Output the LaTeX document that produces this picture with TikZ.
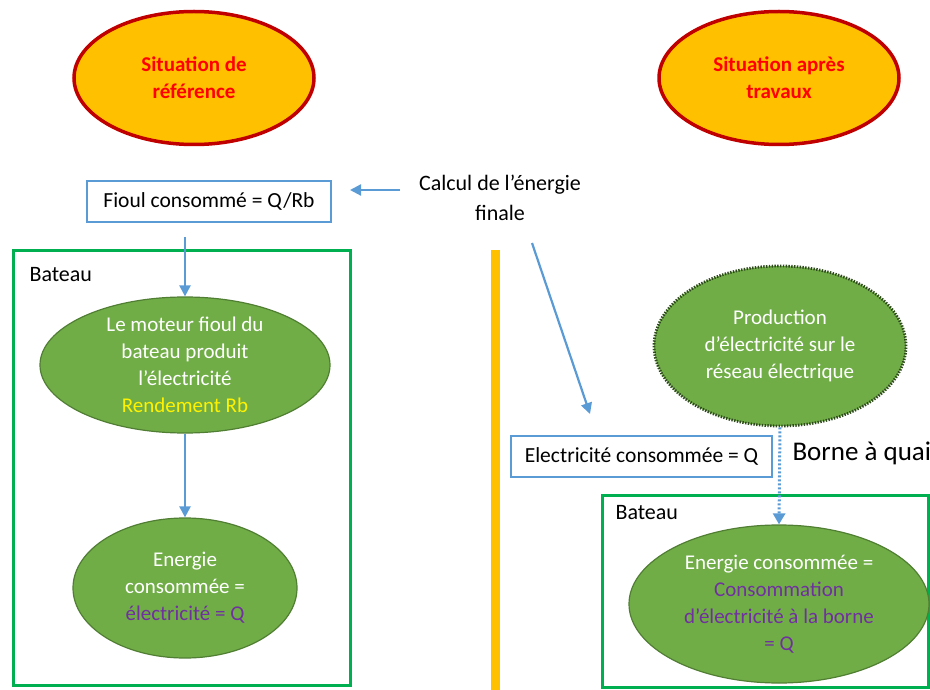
\documentclass[tikz,border=0pt]{standalone}
\usepackage{fontspec}
\setmainfont{Carlito}
\usetikzlibrary{shapes.geometric,arrows.meta}

\definecolor{sitfill}{HTML}{FFC000}
\definecolor{sitline}{HTML}{C00000}
\definecolor{leaf}{HTML}{70AD47}
\definecolor{leafline}{HTML}{507E32}
\definecolor{dotline}{HTML}{2E4A1C}
\definecolor{flowblue}{HTML}{5B9BD5}
\definecolor{boatgreen}{HTML}{00B050}
\definecolor{mauve}{HTML}{7030A0}

\tikzset{
  situation/.style={draw=sitline, line width=3.5, fill=sitfill, ellipse, inner sep=0,
    minimum width=240, minimum height=133, align=center, text=red,
    font=\bfseries\fontsize{21}{27}\selectfont},
  stage/.style={draw=leafline, line width=1.2, fill=leaf, ellipse, inner sep=0,
    align=center, text=white, font=\fontsize{21}{27}\selectfont},
  valuebox/.style={draw=flowblue, line width=2, rectangle, minimum height=41,
    font=\fontsize{21.5}{27}\selectfont},
  boatbox/.style={draw=boatgreen, line width=3, rectangle, inner sep=0},
  plain/.style={font=\fontsize{22}{30}\selectfont, align=center},
  flow/.style={draw=flowblue, line width=2.2, -{Triangle[length=11, width=11]}}
}

\begin{document}
\begin{tikzpicture}[x=1pt, y=-1pt]
            \useasboundingbox (0,0) rectangle (930,690);

            % deux situations
            \node[situation] (ref) at (194, 78) {Situation de\\référence};
            \node[situation] (apres) at (779, 78) {Situation après\\travaux};

            % avant : fioul
            \node[valuebox, minimum width=244] (fioul) at (209, 201.5) {Fioul consommé = Q/Rb};
            \node[plain] (calcul) at (500, 198) {Calcul de l’énergie\\finale};
            \coordinate (calcA) at (400, 190);
            \coordinate (calcB) at (532, 243);
            \coordinate (calcC) at (590, 414);

            \node[boatbox, minimum width=337, minimum height=435] (boatL) at (181.5, 467.5) {};
            \node[plain, anchor=west] (boatLlab) at (26, 275) {Bateau};
            \node[stage, minimum width=290, minimum height=136] (moteur) at (185, 365)
                {Le moteur fioul du\\bateau produit\\l’électricité\\\textcolor{yellow}{Rendement Rb}};
            \node[stage, minimum width=224, minimum height=140] (energie) at (185, 588)
                {Energie\\consommée =\\\textcolor{mauve}{électricité = Q}};

            % separation
            \fill[sitfill] (491, 250) rectangle (500, 690);

            % apres : borne a quai
            \node[stage, draw=dotline, line width=2.8, dash pattern=on 1.4 off 1.4,
                  minimum width=252, minimum height=160] (prod) at (780, 346)
                {Production\\d’électricité sur le\\réseau électrique};
            \node[valuebox, minimum width=261] (elec) at (641.5, 456) {Electricité consommée = Q};
            \node[anchor=west, font=\fontsize{27}{32}\selectfont] (borne) at (789, 453) {Borne à quai};

            \node[boatbox, minimum width=326, minimum height=192] (boatR) at (765, 591) {};
            \node[plain, anchor=west] (boatRlab) at (612, 513) {Bateau};
            \node[stage, minimum width=300, minimum height=158] (conso) at (779, 604)
                {Energie consommée =\\\textcolor{mauve}{Consommation}\\\textcolor{mauve}{d’électricité à la borne}\\\textcolor{mauve}{= Q}};

            \draw[flow, shorten >=18] (calcA) -- (fioul.east |- calcA);
            \draw[flow] (calcB) -- (calcC);
            \draw[flow, shorten <=14] (fioul.south -| moteur.north) -- (moteur.north);
            \draw[flow] (moteur.south) -- (energie.north);
            \draw[flow, line width=3, dash pattern=on 2 off 2, -{Triangle[length=11, width=12]}] (prod.south) -- (conso.north);
        \end{tikzpicture}
\end{document}
